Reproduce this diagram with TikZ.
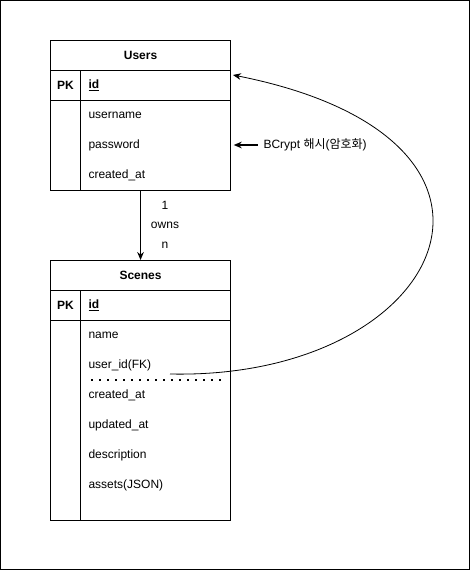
\documentclass[tikz,border=0pt]{standalone}
\usepackage{fontspec}
\setmainfont{Liberation Sans}
\newfontfamily\krfont{Noto Sans CJK KR}
\usepackage{tikz}
\usetikzlibrary{arrows.meta,positioning}

\begin{document}
\begin{tikzpicture}[x=0.75pt,y=-0.75pt,font=\fontsize{9}{11}\selectfont,line width=0.8pt,
  cell/.style={rectangle,draw,anchor=north west,inner sep=0pt,minimum height=22.5pt},
  ttl/.style={cell,minimum width=135pt,font=\fontsize{9}{11}\selectfont\bfseries},
  pk/.style={cell,minimum width=22.5pt,font=\fontsize{9}{11}\selectfont\bfseries},
  key/.style={cell,minimum width=112.5pt,text width=100.5pt,align=left,
              font=\fontsize{9}{11}\selectfont\bfseries},
  fld/.style={anchor=west,inner sep=0pt},
  lbl/.style={inner sep=1pt}]

  \useasboundingbox (0,0) rectangle (471,571);
  \draw (0.5,0.5) rectangle (469.5,569.5);

  % Table Users
  \node[ttl] (uTitle) at (50,40)  {Users};
  \node[pk]  (uPk)    at (50,70)  {PK};
  \node[key] (uId)    at (80,70)  {\underline{id}};
  \node[cell,minimum width=22.5pt,minimum height=67.5pt]  (uBodyL) at (50,100) {};
  \node[cell,minimum width=112.5pt,minimum height=67.5pt] (uBodyR) at (80,100) {};
  \node[fld] (uName) at (88,115) {username};
  \node[fld] (uPass) at (88,145) {password};
  \node[fld] (uCrea) at (88,175) {created\_at};

  % Table Scenes
  \node[ttl] (sTitle) at (50,260) {Scenes};
  \node[pk]  (sPk)    at (50,290) {PK};
  \node[key] (sId)    at (80,290) {\underline{id}};
  \node[cell,minimum width=22.5pt,minimum height=150pt]  (sBodyL) at (50,320) {};
  \node[cell,minimum width=112.5pt,minimum height=150pt] (sBodyR) at (80,320) {};
  \node[fld] (sName) at (88,335) {name};
  \node[fld] (sFk)   at (88,365) {user\_id(FK)};
  \node[fld] (sCrea) at (88,395) {created\_at};
  \node[fld] (sUpd)  at (88,425) {updated\_at};
  \node[fld] (sDesc) at (88,455) {description};
  \node[fld] (sAss)  at (88,485) {assets(JSON)};
  \draw[line width=1.4pt,dash pattern=on 1.4pt off 4.6pt] (91,380) -- (222,380);

  % Relation
  \draw[-{Stealth[length=6pt,width=5pt]}] (uTitle.center |- uBodyR.south) -- (sTitle.north);
  \node[lbl] (rOne)  at (165,205) {1};
  \node[lbl] (rOwns) at (165,225) {owns};
  \node[lbl] (rN)    at (165,245) {n};

  % BCrypt
  \node[fld] (bcrypt) at (263,145) {BCrypt {\krfont 해시}({\krfont 암호화})};
  \draw[-{Stealth[length=6pt,width=5pt]},shorten <=4pt,shorten >=2pt]
    (bcrypt.west) -- (uBodyR.east |- bcrypt.west);

  % FK -> id
  \coordinate (fkOut) at (170,374);
  \coordinate (idIn)  at (233,75);
  \draw[-{Stealth[length=6pt,width=5pt]},line width=0.6pt]
    (fkOut) .. controls (445,380) and (560,140) .. (idIn);
\end{tikzpicture}
\end{document}
